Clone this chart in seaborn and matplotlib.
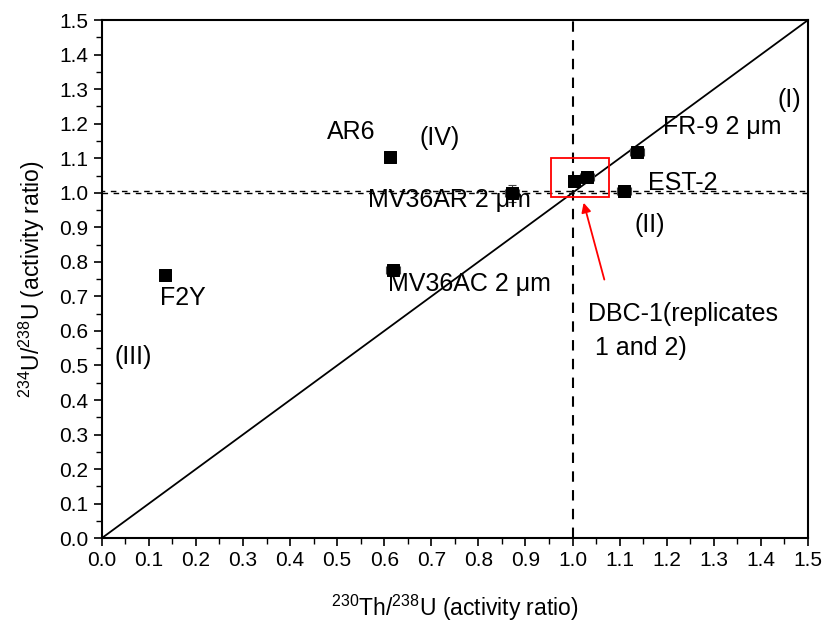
import matplotlib
matplotlib.use('Agg')
import matplotlib.pyplot as plt
import seaborn as sns
import pandas as pd
from matplotlib.ticker import MultipleLocator
from matplotlib.patches import Rectangle

# sample data
samples = ['F2Y', 'AR6', 'MV36AC', 'MV36AR', 'DBC-1a', 'DBC-1b', 'FR-9', 'EST-2']
th_u = [0.134, 0.612, 0.618, 0.871, 1.003, 1.030, 1.137, 1.109]
u_u = [0.762, 1.103, 0.776, 0.999, 1.034, 1.045, 1.118, 1.005]
th_err = [0.005, 0.006, 0.015, 0.015, 0.010, 0.015, 0.015, 0.015]
u_err = [0.005, 0.010, 0.008, 0.025, 0.005, 0.005, 0.005, 0.005]

# equiline
eq_x = [0.0, 1.5]
eq_y = [0.0, 1.5]

df = pd.DataFrame({'sample': samples, 'th': th_u, 'u': u_u})

sns.set_style('ticks')
plt.rcParams['font.family'] = ['Liberation Sans', 'DejaVu Sans']
plt.rcParams['mathtext.fontset'] = 'custom'
plt.rcParams['mathtext.rm'] = 'Liberation Sans'
plt.rcParams['mathtext.default'] = 'rm'
plt.rcParams['text.color'] = 'black'
plt.rcParams['axes.labelcolor'] = 'black'
plt.rcParams['xtick.color'] = 'black'
plt.rcParams['ytick.color'] = 'black'

fig = plt.figure(figsize=(8.27, 6.28), dpi=100)
ax = fig.add_axes([0.123, 0.143, 0.854, 0.825])

sns.lineplot(x=eq_x, y=eq_y, color='black', lw=1.3, ax=ax)
ax.axvline(1.0, color='black', ls=(0, (5, 4)), lw=1.5)
ax.axhline(1.0, color='black', ls=(0, (4, 4)), lw=1.0)
ax.axhline(1.006, color='black', ls=(2, (4, 4)), lw=1.0)

ax.errorbar(th_u, u_u, xerr=th_err, yerr=u_err, fmt='none', ecolor='#444444',
            elinewidth=0.8, capsize=3, capthick=0.8)
sns.scatterplot(data=df, x='th', y='u', marker='s', s=80, color='black',
                edgecolor='black', zorder=5, ax=ax)

ax.add_patch(Rectangle((0.954, 0.988), 0.123, 0.112, fill=False,
                       edgecolor='red', lw=1.3, zorder=6))
ax.annotate('', xy=(1.022, 0.979), xytext=(1.069, 0.741),
            arrowprops=dict(arrowstyle='-|>', color='red', lw=1.3,
                            mutation_scale=14))

fs = 18
labels = [
    ('AR6', 0.478, 1.177), ('(IV)', 0.675, 1.158), ('(I)', 1.436, 1.268),
    ('FR-9 2 \u03bcm', 1.192, 1.190), ('EST-2', 1.160, 1.028),
    ('(II)', 1.132, 0.906), ('MV36AR 2 \u03bcm', 0.565, 0.979),
    ('MV36AC 2 \u03bcm', 0.608, 0.736), ('F2Y', 0.123, 0.695),
    ('(III)', 0.028, 0.524), ('DBC-1(replicates', 1.033, 0.649),
    (' 1 and 2)', 1.033, 0.550),
]
for txt, x, y in labels:
    ax.text(x, y, txt, fontsize=fs, ha='left', va='center', zorder=7)

ax.set_xlim(0, 1.5)
ax.set_ylim(0, 1.5)
ax.xaxis.set_major_locator(MultipleLocator(0.1))
ax.xaxis.set_minor_locator(MultipleLocator(0.05))
ax.yaxis.set_major_locator(MultipleLocator(0.1))
ax.yaxis.set_minor_locator(MultipleLocator(0.05))
ax.xaxis.set_major_formatter(plt.FormatStrFormatter('%.1f'))
ax.yaxis.set_major_formatter(plt.FormatStrFormatter('%.1f'))
ax.tick_params(which='major', length=6, width=1.2, labelsize=15, direction='out')
ax.tick_params(which='minor', length=4, width=1.0, direction='out')
for sp in ax.spines.values():
    sp.set_linewidth(1.5)
    sp.set_color('black')

ax.set_xlabel('$^{230}$Th/$^{238}$U (activity ratio)', fontsize=16.5, labelpad=16)
ax.set_ylabel('$^{234}$U/$^{238}$U (activity ratio)', fontsize=16.5, labelpad=9)

fig.savefig('out.png', dpi=100)
